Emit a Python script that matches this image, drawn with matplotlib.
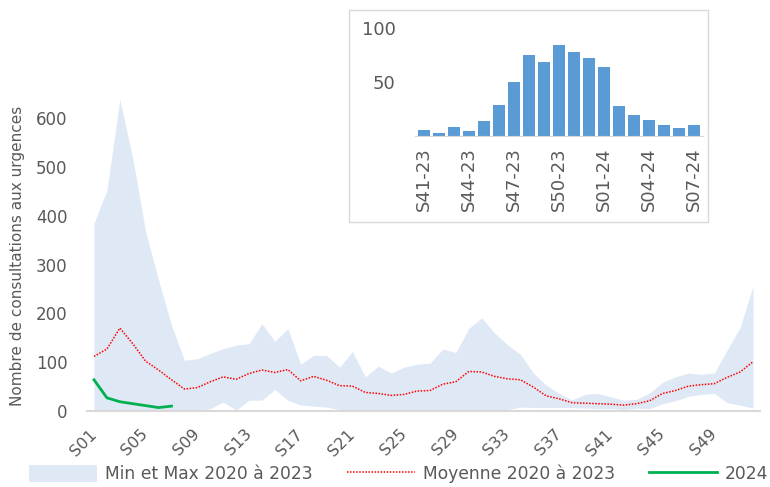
import numpy as np
import matplotlib
matplotlib.use('Agg')
import matplotlib.pyplot as plt
from matplotlib.patches import Rectangle, Patch
from matplotlib.lines import Line2D

plt.rcParams['font.family'] = ['DejaVu Sans']

# semaines S01..S52
semaines = ['S%02d' % i for i in range(1, 53)]
max_2020_2023 = [385, 453, 639, 518, 367, 268, 176, 104, 107, 118, 128, 135, 138, 179, 143, 169,
                 96, 114, 114, 90, 122, 70, 92, 78, 90, 96, 98, 127, 120, 169, 191, 160, 136, 116,
                 78, 53, 36, 23, 34, 36, 29, 22, 24, 37, 59, 70, 78, 75, 78, 125, 171, 256]
min_2020_2023 = [0, 0, 0, 0, 0, 0, 0, 0, 0, 5, 18, 2, 22, 22, 44, 22, 12, 10, 8, 3, 3, 1, 0, 1,
                 1, 1, 2, 2, 2, 1, 0, 1, 3, 8, 7, 7, 7, 7, 6, 5, 5, 3, 6, 5, 15, 21, 30, 34, 36,
                 17, 12, 6]
moy_2020_2023 = [112, 127, 170, 138, 102, 84, 64, 45, 48, 60, 70, 65, 77, 84, 79, 85, 62, 71, 63,
                 52, 51, 38, 36, 32, 34, 41, 42, 55, 60, 81, 80, 71, 66, 64, 49, 31, 25, 17, 16,
                 15, 14, 12, 15, 21, 36, 42, 51, 54, 56, 69, 80, 101]
val_2024 = [64, 27, 19, 15, 11, 7, 10]

# encart : S41-23 .. S07-24
semaines_encart = ['S%02d-23' % i for i in range(41, 53)] + ['S%02d-24' % i for i in range(1, 8)]
val_encart = [6, 3, 8, 5, 14, 29, 50, 75, 68, 84, 78, 72, 64, 28, 19, 15, 10, 7, 10]

gris = '#595959'
W, H = 770, 487
fig = plt.figure(figsize=(W / 100, H / 100), dpi=100)

# graphique principal
ax = fig.add_axes([87 / W, 76 / H, 673 / W, 317 / H])
x = np.arange(1, 53)
ax.fill_between(x, min_2020_2023, max_2020_2023, color='#dfe9f5', linewidth=0)
ax.plot(x, moy_2020_2023, color='#ff0000', linestyle=(0, (1, 1)), linewidth=1.1)
ax.plot(np.arange(1, len(val_2024) + 1), val_2024, color='#00b050', linewidth=2)

ax.set_xlim(1 - 7 / 12.92, 52 + 7 / 12.92)
ax.set_ylim(0, 650)
ax.set_yticks(range(0, 700, 100))
ax.set_xticks(x[::4])
ax.set_xticklabels(semaines[::4], rotation=45, ha='right', va='center', rotation_mode='anchor')
ax.tick_params(axis='both', length=0, colors=gris, labelsize=12)
ax.tick_params(axis='x', pad=15, labelsize=11.5)
ax.tick_params(axis='y', pad=14)
for s in ['top', 'right', 'left']:
    ax.spines[s].set_visible(False)
ax.spines['bottom'].set_color('#d9d9d9')
ax.spines['bottom'].set_linewidth(1.5)
ax.set_ylabel('Nombre de consultations aux urgences', color=gris, fontsize=11)
ax.yaxis.set_label_coords(-0.092, 0.49)

# encart
fig.patches.append(Rectangle((349 / W, (H - 222) / H), 359 / W, 212 / H,
                             transform=fig.transFigure, facecolor='white',
                             edgecolor='#d9d9d9', linewidth=1, zorder=2))
ax2 = fig.add_axes([415 / W, (H - 136) / H, 288 / W, 118 / H], zorder=3)
xi = np.arange(len(val_encart))
ax2.bar(xi, val_encart, width=0.8, color='#5b9bd5')
ax2.set_xlim(-0.6, len(val_encart) - 0.4)
ax2.set_ylim(0, 109)
ax2.set_yticks([50, 100])
ax2.set_xticks(xi[::3])
ax2.set_xticklabels(semaines_encart[::3], rotation=90)
ax2.tick_params(axis='both', length=0, colors=gris, labelsize=13)
ax2.tick_params(axis='x', pad=8)
ax2.tick_params(axis='y', pad=14)
ax2.patch.set_alpha(0)
for s in ['top', 'right', 'left']:
    ax2.spines[s].set_visible(False)
ax2.spines['bottom'].set_color('#d9d9d9')

# legende
handles = [Patch(facecolor='#dfe9f5', edgecolor='none'),
           Line2D([], [], color='#ff0000', linestyle=(0, (1, 1)), linewidth=1.1),
           Line2D([], [], color='#00b050', linewidth=2)]
labels = ['Min et Max 2020 à 2023', 'Moyenne 2020 à 2023', '2024']
leg = fig.legend(handles, labels, loc='center', bbox_to_anchor=(0.518, (H - 474) / H), ncol=3,
                 frameon=False, fontsize=12.3, handlelength=4.0, handleheight=1.1,
                 handletextpad=0.45, columnspacing=2.0)
for t in leg.get_texts():
    t.set_color(gris)

fig.savefig('out.png', dpi=100)
